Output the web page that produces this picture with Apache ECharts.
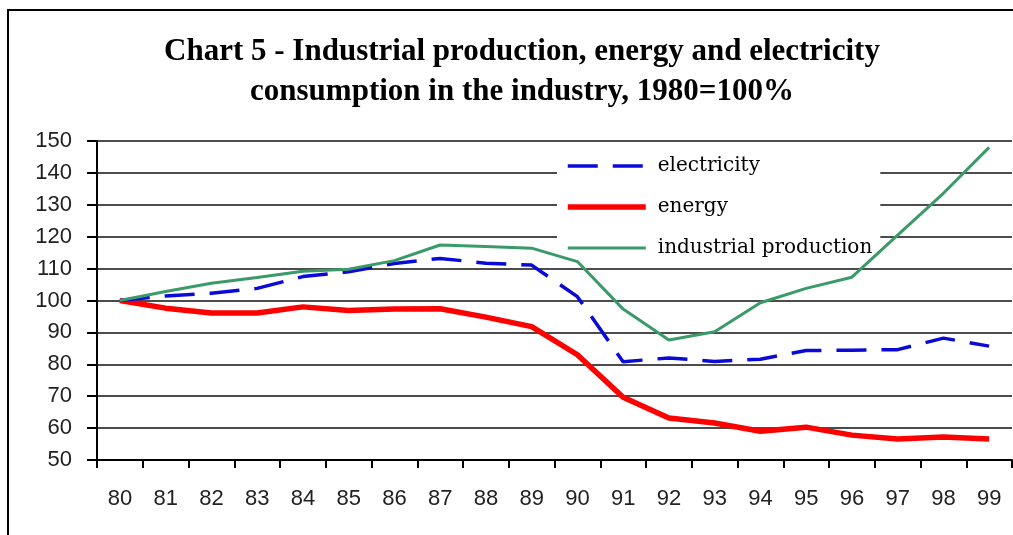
<!DOCTYPE html>
<html>
<head>
<meta charset="utf-8">
<script src="https://cdn.jsdelivr.net/npm/echarts@6/dist/echarts.min.js"></script>
<style>
html,body{margin:0;padding:0;background:#fff;}
#chart{width:1013px;height:535px;}
</style>
</head>
<body>
<div id="chart"></div>
<script>
const years = ['80','81','82','83','84','85','86','87','88','89','90','91','92','93','94','95','96','97','98','99'];
const electricity = [100, 101.4, 102.3, 103.8, 107.5, 109, 111.6, 113.2, 111.7, 111.1, 101.2, 80.8, 82, 80.9, 81.6, 84.3, 84.4, 84.6, 88.2, 85.7];
const energy = [100, 97.6, 96.1, 96.1, 98, 96.9, 97.3, 97.4, 94.8, 91.8, 83, 69.7, 63.2, 61.6, 59, 60.3, 57.8, 56.6, 57.2, 56.6];
const industrial = [100, 102.8, 105.4, 107.2, 109.2, 109.8, 112.5, 117.4, 116.9, 116.4, 112.2, 97.3, 87.6, 90.2, 99.3, 103.8, 107.3, 120.5, 133.6, 148];
const yTicks = { min: 50, max: 150, interval: 10 };

const chart = echarts.init(document.getElementById('chart'), null, {renderer: 'canvas'});
chart.setOption({
  animation: false,
  backgroundColor: '#fff',
  title: {
    text: 'Chart 5 - Industrial production, energy and electricity\nconsumption in the industry, 1980=100%',
    left: 517, top: 27, textAlign: 'center',
    textStyle: {fontFamily: 'Liberation Serif', fontWeight: 'bold', fontSize: 31, lineHeight: 40, color: '#000'}
  },
  graphic: [{
    type: 'rect', shape: {x: 8, y: 10, width: 1200, height: 700},
    style: {fill: 'none', stroke: '#000', lineWidth: 2}, z: 10, silent: true
  }],
  legend: {
    orient: 'vertical', left: 557, top: 148,
    backgroundColor: '#fff', padding: [6, 8, 6, 8],
    itemWidth: 78, itemHeight: 14, itemGap: 17,
    itemStyle: {opacity: 0},
    lineStyle: {width: 'inherit'},
    textStyle: {fontFamily: 'DejaVu Serif', fontSize: 20, lineHeight: 24, color: '#000', padding: [0, 0, 0, 7]},
    data: ['electricity', 'energy', 'industrial production']
  },
  grid: {left: 97, right: 1, top: 141, bottom: 75},
  xAxis: {
    type: 'category', data: years, boundaryGap: true,
    axisLine: {show: true, lineStyle: {color: '#000', width: 2}},
    axisTick: {show: true, interval: 0, length: 8, alignWithLabel: false, lineStyle: {color: '#000', width: 2}},
    axisLabel: {interval: 0, margin: 28, fontFamily: 'Liberation Sans', fontSize: 22, color: '#222'},
    splitLine: {show: false}
  },
  yAxis: {
    type: 'value', min: yTicks.min, max: yTicks.max, interval: yTicks.interval,
    axisLine: {show: true, lineStyle: {color: '#000', width: 2}},
    axisTick: {show: true, length: 10, lineStyle: {color: '#000', width: 2}},
    axisLabel: {margin: 25, fontFamily: 'Liberation Sans', fontSize: 22, color: '#222'},
    splitLine: {show: true, lineStyle: {color: '#111', width: 1.6}}
  },
  series: [
    {name: 'electricity', type: 'line', data: electricity, symbol: 'none', z: 3,
     lineStyle: {color: '#0a0ad8', width: 3.5, type: [30, 15]}, itemStyle: {color: '#0a0ad8'}},
    {name: 'energy', type: 'line', data: energy, symbol: 'none', z: 2,
     lineStyle: {color: '#ff0000', width: 5.5}, itemStyle: {color: '#ff0000'}},
    {name: 'industrial production', type: 'line', data: industrial, symbol: 'none', z: 4,
     lineStyle: {color: '#3a9a68', width: 3}, itemStyle: {color: '#3a9a68'}}
  ]
});
</script>
</body>
</html>
